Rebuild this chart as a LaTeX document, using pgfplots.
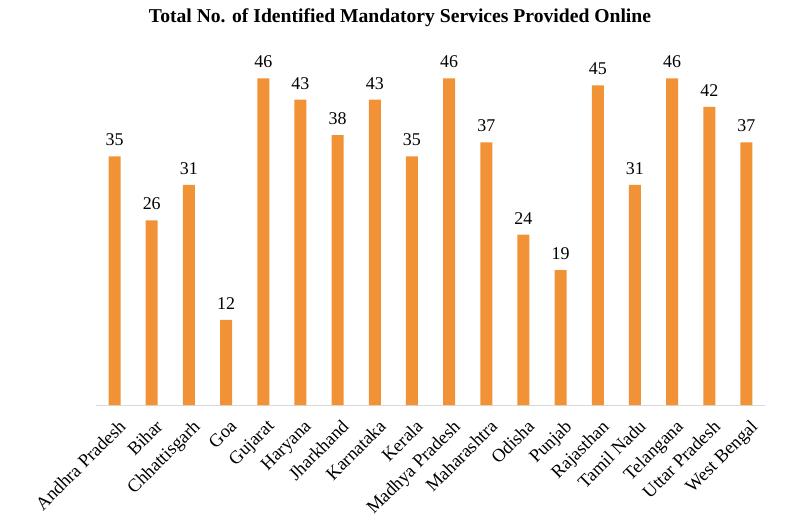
\documentclass[border=0pt]{standalone}
\usepackage{pgfplots}
\pgfplotsset{compat=1.18}
\usepackage{fontspec}
\setmainfont{Liberation Serif}
\definecolor{barorange}{RGB}{242,146,54}
\definecolor{axisgray}{RGB}{217,217,217}
\begin{document}
\begin{tikzpicture}
\path[use as bounding box] (-96bp,-117bp) rectangle (704bp,405bp);
\begin{axis}[
    at={(0,0)}, anchor=south west,
    scale only axis,
    width=669bp, height=355bp,
    xmin=-0.5, xmax=17.5,
    ymin=0, ymax=50,
    axis y line=none,
    axis x line*=bottom,
    x axis line style={axisgray, line width=1pt, -},
    xtick={0,...,17},
    xticklabels={Andhra Pradesh,Bihar,Chhattisgarh,Goa,Gujarat,Haryana,Jharkhand,Karnataka,Kerala,Madhya Pradesh,Maharashtra,Odisha,Punjab,Rajasthan,Tamil Nadu,Telangana,Uttar Pradesh,West Bengal},
    major tick length=0pt,
    xticklabel style={xshift=3bp, yshift=-12bp, rotate=45, anchor=north east,
        inner sep=1pt, font=\fontsize{18.5}{22}\selectfont},
    /pgf/number format/assume math mode=true,
    nodes near coords,
    every node near coord/.append style={font=\fontsize{18}{21}\selectfont, black, yshift=7bp},
    clip=false,
]
\addplot[ybar, bar width=12bp, fill=barorange, draw=none] coordinates {
    (0,35) (1,26) (2,31) (3,12) (4,46) (5,43) (6,38) (7,43) (8,35)
    (9,46) (10,37) (11,24) (12,19) (13,45) (14,31) (15,46) (16,42) (17,37)
};
\end{axis}
\node[font=\bfseries\fontsize{19.7}{23}\selectfont] at (304bp,387bp)
    {Total No. of Identified Mandatory Services Provided Online};
\end{tikzpicture}
\end{document}
